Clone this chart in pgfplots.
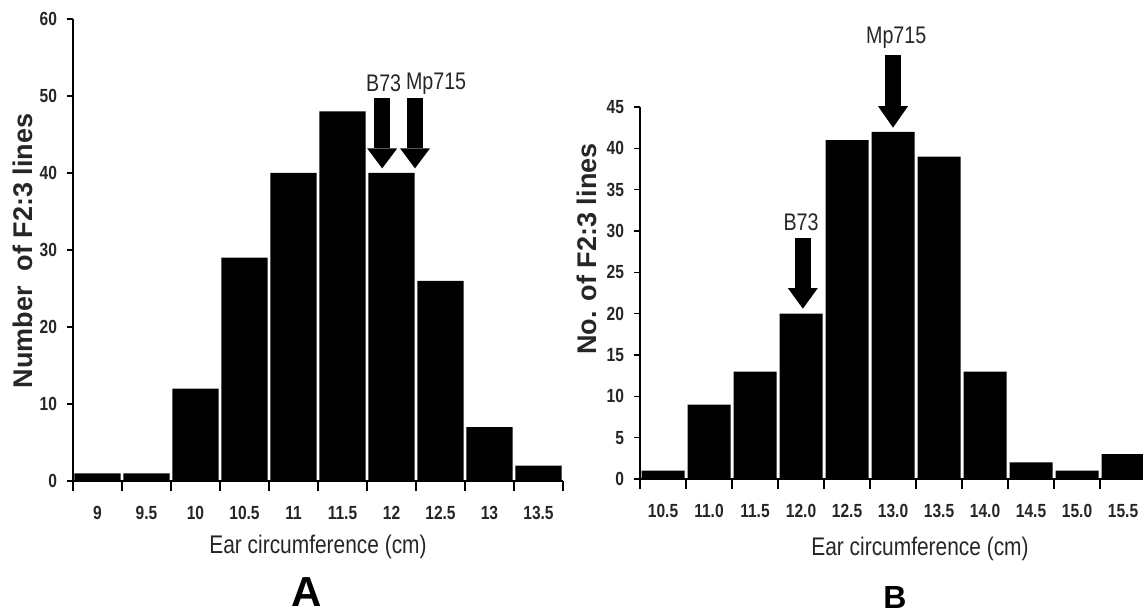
\documentclass[border=0pt]{standalone}
\usepackage{fontspec}
\setmainfont{Liberation Sans}
\newfontfamily\narrow[FakeStretch=0.82]{Liberation Sans}
\usepackage{pgfplots}
\pgfplotsset{compat=1.18}

\newcommand{\darrow}[4]{% x, top, headstart, tip
  \fill[black] ([xshift=-4pt]axis cs:#1,#2) rectangle ([xshift=4pt]axis cs:#1,#3);
  \fill[black] ([xshift=-7.5pt]axis cs:#1,#3) -- ([xshift=7.5pt]axis cs:#1,#3) -- (axis cs:#1,#4) -- cycle;
}

\pgfplotsset{
  histo/.style={
    scale only axis,
    axis lines*=left,
    axis line style={line width=0.8pt, black},
    tick align=outside,
    major tick length=3pt,
    minor tick length=5pt,
    every tick/.style={line width=0.8pt, black},
    major x tick style={draw=none},
    ymin=0,
    xmin=-0.5,
    xtick={0,...,10},
    minor xtick={-0.5,0.5,...,9.5},
    /pgf/number format/assume math mode=true,
    yticklabel style={font=\narrow\bfseries\fontsize{9.5}{11}\selectfont, text=black!85, xshift=-1.5pt},
    xticklabel style={font=\narrow\bfseries\fontsize{9.5}{11}\selectfont, text=black!85, yshift=-6pt},
    clip mode=individual,
  },
  blackbar/.style={ybar, fill=black, draw=none, bar shift=0pt},
}

\begin{document}
\begin{tikzpicture}
% ---------------- Panel A ----------------
\begin{axis}[histo,
  at={(36.5pt,66pt)}, anchor=south west,
  width=245pt, height=231pt,
  xmax=9.5, ymax=60,
  ytick={0,10,...,60},
  xticklabels={9,9.5,10,10.5,11,11.5,12,12.5,13,13.5},
]
\addplot[blackbar, bar width=0.94] coordinates {
  (0,1) (1,1) (2,12) (3,29) (4,40) (5,48) (6,40) (7,26) (8,7) (9,2)};
\darrow{5.81}{49.7}{43.2}{40.6}
\darrow{6.48}{49.7}{43.2}{40.6}
\node[font=\narrow\fontsize{12}{14}\selectfont, text=black!85] at (axis cs:5.84,51.6) {B73};
\node[font=\narrow\fontsize{12}{14}\selectfont, text=black!85] at (axis cs:6.91,51.6) {Mp715};
\end{axis}

% ---------------- Panel B ----------------
\begin{axis}[histo,
  at={(320pt,67pt)}, anchor=south west,
  width=251.5pt, height=186pt,
  xmax=10.435, ymax=45,
  ytick={0,5,...,45},
  xticklabels={10.5,11.0,11.5,12.0,12.5,13.0,13.5,14.0,14.5,15.0,15.5},
]
\addplot[blackbar, bar width=0.935] coordinates {
  (0,1) (1,9) (2,13) (3,20) (4,41) (5,42) (6,39) (7,13) (8,2) (9,1) (10,3)};
\darrow{3.04}{29.1}{23.1}{20.6}
\darrow{5.0}{51.3}{45.1}{42.5}
\node[font=\narrow\fontsize{12}{14}\selectfont, text=black!85] at (axis cs:3.0,31.0) {B73};
\node[font=\narrow\fontsize{12}{14}\selectfont, text=black!85] at (axis cs:5.07,53.4) {Mp715};
\end{axis}

% ---------------- Labels ----------------
\node[rotate=90, font=\bfseries\fontsize{13.5}{16}\selectfont, text=black!85] at (11.5pt,181pt) {Number\ \ of F2:3 lines};
\node[rotate=90, font=\bfseries\fontsize{13.5}{16}\selectfont, text=black!85] at (293.5pt,182pt) {No. of F2:3 lines};
\node[font=\narrow\fontsize{12.75}{15}\selectfont, text=black!85] at (159pt,33pt) {Ear circumference (cm)};
\node[font=\narrow\fontsize{12.75}{15}\selectfont, text=black!85] at (460pt,32pt) {Ear circumference (cm)};
\node[font=\bfseries\fontsize{21}{24}\selectfont] at (153.5pt,10.5pt) {A};
\node[font=\bfseries\fontsize{16}{19}\selectfont] at (447.5pt,8pt) {B};

\pgfresetboundingbox
\path[use as bounding box] (0,0) rectangle (571.5pt,306.5pt);
\end{tikzpicture}
\end{document}
